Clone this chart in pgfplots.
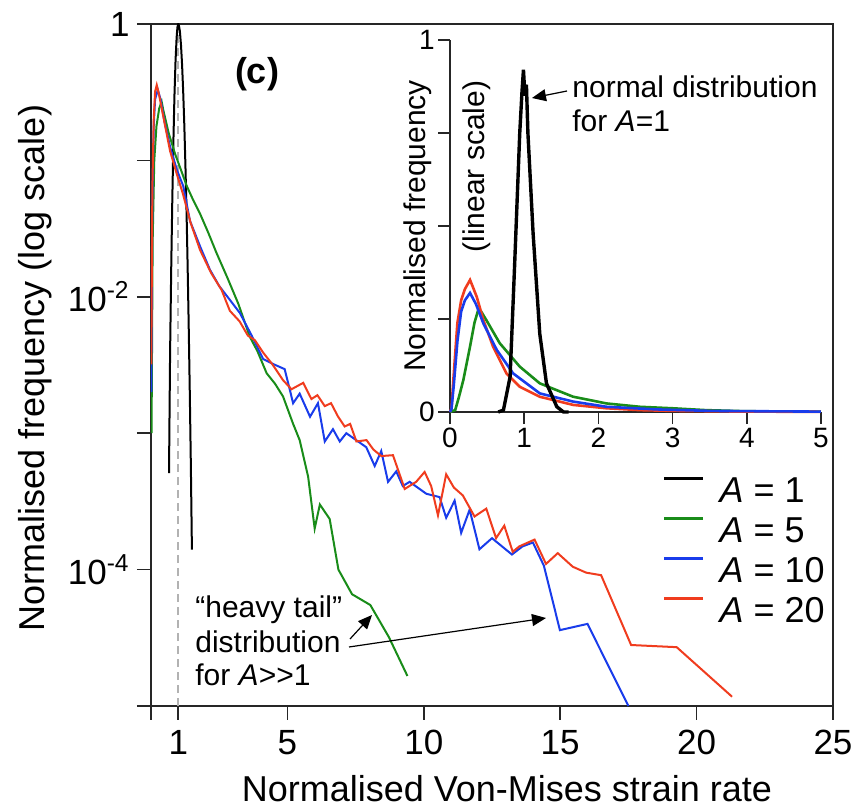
\documentclass[border=0pt]{standalone}
\usepackage{fontspec}
\setmainfont{Liberation Sans}
\usepackage{pgfplots}
\pgfplotsset{compat=1.18}
\usetikzlibrary{arrows.meta}
\definecolor{cgreen}{RGB}{25,140,25}
\definecolor{cblue}{RGB}{25,60,235}
\definecolor{cred}{RGB}{240,60,30}
\newcommand{\bigf}{\fontsize{18}{21}\selectfont}
\newcommand{\tickf}{\fontsize{17.5}{21}\selectfont}
\newcommand{\medf}{\fontsize{15}{17}\selectfont}
\newcommand{\smf}{\fontsize{14}{16}\selectfont}
\newcommand{\px}[2]{({((#1)-151)*0.5pt},{(706-(#2))*0.5pt})}
\begin{document}
\begin{tikzpicture}
\begin{axis}[
  at={(0,0)}, anchor=south west,
  scale only axis, width=341pt, height=341pt,
  xmin=0, xmax=25, ymode=log, ymin=1e-5, ymax=1,
  xtick={0,1,5,10,15,20,25}, xticklabels={,1,5,10,15,20,25},
  ytick={1e-5,1e-4,1e-3,1e-2,1e-1,1},
  yticklabels={,10\textsuperscript{-4},,10\textsuperscript{-2},,1},
  yminorticks=false,
  tick align=outside, major tick length=7pt,
  xtick pos=left, ytick pos=left,
  axis line style={line width=0.8pt, black!85},
  tick style={line width=0.8pt, black!85},
  xticklabel style={font=\tickf, inner sep=0pt, yshift=-5pt},
  yticklabel style={font=\tickf, inner sep=0pt, xshift=-3.5pt},
  legend style={at={(0.7507,0.3358)}, anchor=north west, draw=none, fill=none,
    inner sep=0pt, outer sep=0pt, font=\bigf, row sep=7.3pt,
    nodes={inner sep=0pt, text height=12.7pt, text depth=0pt},
    /tikz/every odd column/.append style={column sep=7.5pt}},
  legend cell align=left,
  legend image code/.code={\draw[#1, line width=1.3pt] (0pt,5.5pt) -- (19.5pt,5.5pt);},
]
\addplot[gray!60, dash pattern=on 4pt off 2.5pt, line width=0.8pt, forget plot] coordinates {(1,1e-5) (1,1)};
\addplot[black, line width=1pt] coordinates {
(0.66,5.1e-4)(0.70,3.9e-3)(0.74,0.0155)(0.78,0.050)(0.82,0.135)(0.86,0.30)(0.90,0.54)(0.94,0.80)(0.97,0.95)(1.00,1.0)(1.03,0.96)(1.06,0.88)(1.10,0.70)(1.14,0.50)(1.18,0.32)(1.22,0.185)(1.26,0.095)(1.30,0.045)(1.34,0.018)(1.38,6.5e-3)(1.42,2.1e-3)(1.46,6.0e-4)(1.50,1.4e-4)};
\addlegendentry{\textit{A} = 1}
\addplot[cgreen, line width=1pt] coordinates {
(0.02,1.0e-3)(0.06,0.025)(0.12,0.10)(0.20,0.178)(0.30,0.24)(0.39,0.27)(0.45,0.234)(0.65,0.158)(0.88,0.112)(1.10,0.085)(1.31,0.065)(1.55,0.051)(1.79,0.041)(2.10,0.0295)(2.40,0.021)(2.80,0.0138)(3.20,8.9e-3)(3.62,5.1e-3)(3.90,4.0e-3)(4.24,2.75e-3)(4.55,2.3e-3)(4.84,1.86e-3)(5.21,1.17e-3)(5.45,8.9e-4)(5.76,4.8e-4)(6.00,2.0e-4)(6.19,3.0e-4)(6.55,2.35e-4)(6.87,1.0e-4)(7.37,6.6e-5)(8.04,5.5e-5)(8.72,3.2e-5)(9.40,1.66e-5)};
\addlegendentry{\textit{A} = 5}
\addplot[cblue, line width=1pt] coordinates {
(0.01,2.0e-3)(0.05,0.05)(0.10,0.178)(0.15,0.28)(0.25,0.33)(0.35,0.28)(0.50,0.19)(0.70,0.126)(0.95,0.085)(1.18,0.065)(1.43,0.036)(1.80,0.0234)(2.16,0.0158)(2.50,0.012)(2.89,9.5e-3)(3.26,7.6e-3)(3.69,5.2e-3)(4.11,3.5e-3)(4.50,3.2e-3)(4.90,2.95e-3)(5.21,1.66e-3)(5.45,1.95e-3)(5.83,1.32e-3)(6.12,1.66e-3)(6.37,8.7e-4)(6.67,1.07e-3)(6.92,8.7e-4)(7.16,1.0e-3)(7.89,7.9e-4)(8.20,5.75e-4)(8.44,7.4e-4)(8.69,4.4e-4)(8.99,5.25e-4)(9.23,4.1e-4)(9.48,4.4e-4)(10.09,3.6e-4)(10.58,3.4e-4)(10.82,2.4e-4)(11.13,3.2e-4)(11.37,1.86e-4)(11.68,2.75e-4)(12.04,1.41e-4)(12.50,1.7e-4)(13.23,1.29e-4)(13.62,1.48e-4)(14.00,1.58e-4)(14.40,1.07e-4)(14.99,3.6e-5)(16.00,4.0e-5)(17.50,1.0e-5)};
\addlegendentry{\textit{A} = 10}
\addplot[cred, line width=1pt] coordinates {
(0.01,3.2e-3)(0.05,0.063)(0.10,0.20)(0.15,0.32)(0.21,0.357)(0.30,0.30)(0.45,0.21)(0.70,0.117)(0.95,0.079)(1.18,0.056)(1.45,0.035)(1.80,0.022)(2.20,0.015)(2.59,0.0112)(2.89,7.9e-3)(3.25,6.6e-3)(3.55,5.2e-3)(3.81,4.8e-3)(4.11,3.9e-3)(4.45,3.2e-3)(4.84,2.45e-3)(5.15,2.1e-3)(5.58,2.34e-3)(5.88,1.78e-3)(6.10,1.9e-3)(6.37,1.58e-3)(6.60,1.66e-3)(6.86,1.32e-3)(7.10,1.12e-3)(7.30,1.17e-3)(7.53,8.7e-4)(7.90,8.9e-4)(8.15,7.6e-4)(8.44,6.8e-4)(8.87,6.9e-4)(9.30,3.9e-4)(9.72,4.4e-4)(10.03,5.2e-4)(10.27,4.1e-4)(10.52,2.5e-4)(10.82,5.0e-4)(11.10,4.0e-4)(11.43,3.5e-4)(11.86,2.45e-4)(12.29,2.8e-4)(12.65,1.7e-4)(12.95,2.1e-4)(13.26,1.35e-4)(13.50,1.48e-4)(14.06,1.66e-4)(14.48,1.1e-4)(14.91,1.32e-4)(15.46,1.05e-4)(15.95,9.5e-5)(16.50,9.1e-5)(17.60,2.8e-5)(19.27,2.7e-5)(21.30,1.17e-5)};
\addlegendentry{\textit{A} = 20}
\end{axis}
\begin{axis}[
  at={(149.5pt,147pt)}, anchor=south west,
  scale only axis, width=185.5pt, height=186pt,
  xmin=0, xmax=5, ymin=0, ymax=1,
  axis x line*=bottom, axis y line*=left,
  axis line style={-, line width=0.8pt, black!85},
  tick style={line width=0.8pt, black!85},
  xtick={0,1,2,3,4,5}, xticklabels={0,1,2,3,4,5},
  ytick={0,0.25,0.5,0.75,1}, yticklabels={0,,,,1},
  tick align=outside, major tick length=6pt,
  xticklabel style={font=\smf, inner sep=0pt, yshift=-2pt},
  yticklabel style={font=\smf, inner sep=0pt, xshift=-1.5pt},
  clip=false,
]
\addplot[cgreen, line width=1.3pt] coordinates {
(0,0)(0.07,0.005)(0.12,0.04)(0.18,0.086)(0.27,0.176)(0.33,0.24)(0.38,0.274)(0.42,0.27)(0.49,0.247)(0.67,0.185)(0.94,0.122)(1.21,0.077)(1.66,0.041)(2.11,0.023)(2.56,0.014)(3.0,0.010)(3.45,0.005)(4.0,0.002)(5,0.001)};
\addplot[cred, line width=1.3pt] coordinates {
(0,0)(0.02,0.01)(0.05,0.10)(0.10,0.24)(0.15,0.30)(0.20,0.33)(0.27,0.355)(0.36,0.31)(0.45,0.247)(0.58,0.176)(0.76,0.104)(0.94,0.068)(1.21,0.041)(1.66,0.019)(2.11,0.010)(2.56,0.005)(3.0,0.003)(4.0,0.001)(5.0,0.0005)};
\addplot[cblue, line width=1.3pt] coordinates {
(0,0)(0.02,0.008)(0.05,0.07)(0.10,0.19)(0.15,0.27)(0.20,0.30)(0.27,0.32)(0.35,0.29)(0.45,0.238)(0.63,0.167)(0.85,0.104)(1.21,0.05)(1.66,0.028)(2.11,0.014)(2.78,0.007)(3.5,0.003)(4.2,0.002)(5,0.001)};
\addplot[black, line width=1.7pt] coordinates {
(0.65,0)(0.72,0.005)(0.81,0.095)(0.87,0.39)(0.94,0.75)(0.97,0.86)(0.99,0.92)(1.01,0.85)(1.03,0.88)(1.05,0.75)(1.12,0.48)(1.21,0.21)(1.30,0.077)(1.44,0.014)(1.53,0.0)(1.6,0.0)};
\end{axis}
% labels and annotations
\node[rotate=90, anchor=base, font=\bigf] at \px{45}{368} {Normalised frequency (log scale)};
\node[anchor=base, font=\bigf] at \px{507}{801} {Normalised Von-Mises strain rate};
\node[font=\bigf\bfseries] at \px{257}{74} {(c)};
\node[rotate=90, anchor=base, font=\medf] at \px{425}{226} {Normalised frequency};
\node[rotate=90, anchor=base, font=\medf] at \px{484}{166.5} {(linear scale)};
\node[anchor=base west, inner sep=0pt, font=\medf] at \px{572}{98} {normal distribution};
\node[anchor=base west, inner sep=0pt, font=\medf] at \px{572}{132} {for \textit{A}=1};
\draw[line width=0.6pt, -{Triangle[length=7pt,width=6pt]}] \px{567}{91} -- \px{532}{98};
\node[anchor=base west, inner sep=0pt, font=\medf] at \px{195}{618} {“heavy tail”};
\node[anchor=base west, inner sep=0pt, font=\medf] at \px{195}{652} {distribution};
\node[anchor=base west, inner sep=0pt, font=\medf] at \px{195}{686} {for \textit{A}>{}>1};
\draw[line width=0.6pt, -{Triangle[length=7pt,width=6pt]}] \px{350}{639} -- \px{372}{615};
\draw[line width=0.6pt, -{Triangle[length=7pt,width=6pt]}] \px{349}{647} -- \px{546}{618};
\pgfresetboundingbox
\path \px{0}{0} rectangle \px{857}{809};
\end{tikzpicture}
\end{document}
